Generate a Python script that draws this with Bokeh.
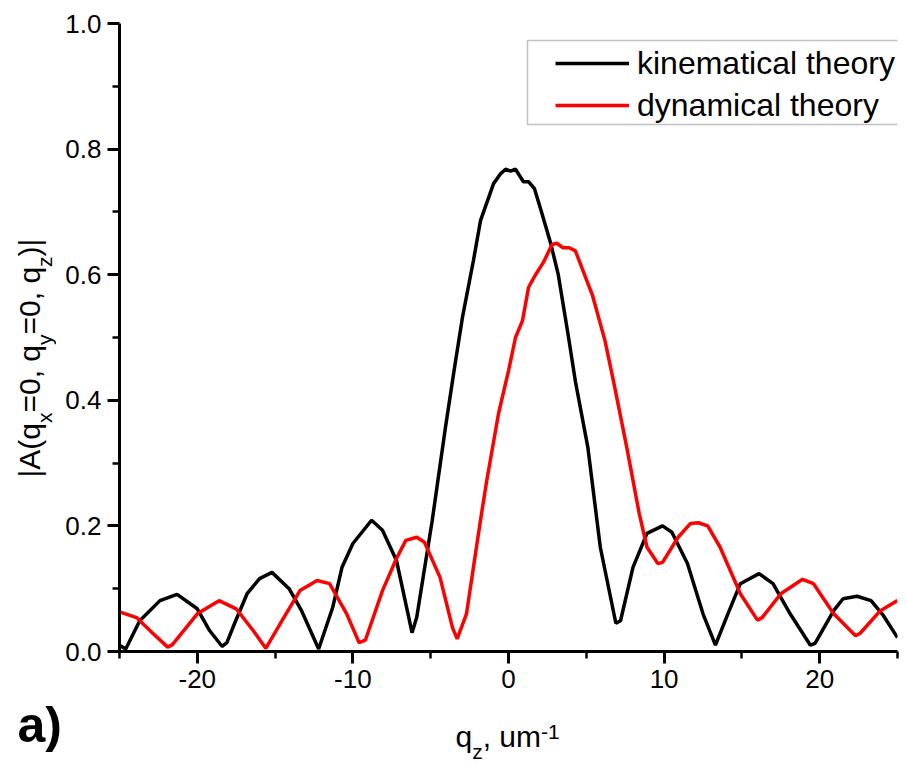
import math
from bokeh.plotting import figure
from bokeh.layouts import row, column
from bokeh.models import (Range1d, FixedTicker, Label, Legend, LegendItem,
                          BoxAnnotation, PrintfTickFormatter)
from bokeh.embed import file_html
from bokeh.resources import INLINE

# ---------------- data ----------------
q_kin = [-25.0, -24.6, -23.7, -22.4, -21.3, -20.0, -19.2, -18.4, -18.1, -17.6,
         -16.8, -16.0, -15.2, -14.1, -13.3, -12.2, -11.3, -10.7, -10.0, -8.8,
         -8.1, -7.2, -6.2, -5.9, -4.9, -4.05, -3.5, -2.96, -2.25, -1.8,
         -0.96, -0.5, -0.19, 0.13, 0.45, 0.96, 1.3, 1.67, 2.06, 2.7,
         3.2, 3.86, 4.3, 5.1, 5.9, 6.9, 7.2, 8.0, 8.9, 9.9,
         10.5, 11.5, 12.5, 13.3, 14.1, 14.9, 16.1, 17.0, 18.1, 19.4,
         19.7, 20.9, 21.5, 22.4, 23.3, 24.1, 25.0]
a_kin = [0.010, 0.004, 0.049, 0.081, 0.091, 0.068, 0.033, 0.008, 0.014, 0.045,
         0.092, 0.116, 0.126, 0.100, 0.065, 0.004, 0.070, 0.134, 0.172, 0.209,
         0.193, 0.145, 0.030, 0.054, 0.209, 0.357, 0.447, 0.532, 0.623, 0.686,
         0.745, 0.761, 0.768, 0.765, 0.768, 0.748, 0.748, 0.737, 0.705, 0.651,
         0.600, 0.500, 0.430, 0.325, 0.166, 0.045, 0.049, 0.134, 0.188, 0.200,
         0.190, 0.140, 0.060, 0.010, 0.060, 0.108, 0.124, 0.108, 0.060, 0.010,
         0.013, 0.065, 0.084, 0.088, 0.081, 0.057, 0.022]

q_dyn = [-25.0, -23.9, -22.9, -21.9, -21.6, -20.0, -18.6, -17.5, -16.4, -15.6,
         -14.3, -13.4, -12.3, -11.5, -10.4, -9.6, -9.2, -8.1, -7.2, -6.6,
         -5.9, -5.4, -4.4, -3.6, -3.3, -2.7, -1.8, -1.4, -0.64, 0.0,
         0.45, 0.9, 1.29, 1.74, 2.25, 2.8, 3.1, 3.5, 3.9, 4.3,
         5.1, 5.4, 6.2, 6.75, 7.6, 8.4, 8.9, 9.6, 9.9, 10.9,
         11.7, 12.2, 12.8, 13.6, 14.9, 16.0, 16.3, 17.5, 18.9, 19.6,
         20.9, 22.3, 22.6, 23.9, 25.0]
a_dyn = [0.063, 0.054, 0.030, 0.007, 0.011, 0.060, 0.081, 0.068, 0.033, 0.005,
         0.060, 0.097, 0.113, 0.108, 0.060, 0.014, 0.018, 0.097, 0.148, 0.177,
         0.182, 0.174, 0.118, 0.038, 0.020, 0.060, 0.209, 0.272, 0.379, 0.447,
         0.500, 0.527, 0.580, 0.600, 0.620, 0.648, 0.650, 0.643, 0.643, 0.638,
         0.586, 0.567, 0.495, 0.430, 0.325, 0.220, 0.166, 0.140, 0.142, 0.182,
         0.204, 0.205, 0.200, 0.166, 0.092, 0.050, 0.054, 0.092, 0.115, 0.108,
         0.060, 0.025, 0.029, 0.065, 0.081]

x_ticks = [-20, -10, 0, 10, 20]
x_minor = [-25, -15, -5, 5, 15, 25]
y_ticks = [0.0, 0.2, 0.4, 0.6, 0.8, 1.0]
y_minor = [0.1, 0.3, 0.5, 0.7, 0.9]
series_names = ["kinematical theory", "dynamical theory"]
series_colors = ["#000000", "#ff0000"]

# label runs: (text, kind) kind: n=normal, sub, sup
x_label_runs = [("q", "n"), ("z", "sub"), (", um", "n"), ("-1", "sup")]
y_label_runs = [("|A(q", "n"), ("x", "sub"), ("=0, q", "n"), ("y", "sub"),
                ("=0, q", "n"), ("z", "sub"), (")|", "n")]
panel_tag = "a)"

# ---------------- layout constants (canvas px) ----------------
W, H = 906, 764
YW = 56          # width of the strip holding the y label
MH = 700         # height of the top row (main plot)
FL, FR, FT, FB = 119, 897, 23, 651   # frame edges in canvas px
FONT = "Liberation Sans"
BASE_FIX = 0.4   # bokeh draws "alphabetic" text ~0.4em below the anchor


def blank(width, height, top=0, bottom=0):
    f = figure(width=width, height=height, output_backend="svg", title=None,
               toolbar_location=None, x_axis_location=None, y_axis_location=None,
               min_border_left=0, min_border_right=0,
               min_border_top=top, min_border_bottom=bottom,
               x_range=Range1d(0, 1), y_range=Range1d(0, 1),
               background_fill_color="white", border_fill_color="white")
    f.outline_line_color = None
    f.grid.visible = False
    return f


p = figure(width=W - YW, height=MH, output_backend="svg", toolbar_location=None,
           x_range=Range1d(-25, 25), y_range=Range1d(0, 1),
           min_border_left=FL - YW, min_border_right=W - FR,
           min_border_top=FT, min_border_bottom=MH - FB,
           background_fill_color="white", border_fill_color="white")
p.outline_line_color = None
p.grid.visible = False

p.xaxis.ticker = FixedTicker(ticks=x_ticks, minor_ticks=x_minor)
p.yaxis.ticker = FixedTicker(ticks=y_ticks, minor_ticks=y_minor)
p.xaxis.formatter = PrintfTickFormatter(format="%d")
p.yaxis.formatter = PrintfTickFormatter(format="%.1f")
for ax in (p.xaxis[0], p.yaxis[0]):
    ax.axis_line_width = 3
    ax.axis_line_color = "black"
    ax.major_tick_line_width = 3
    ax.minor_tick_line_width = 2.5
    ax.major_tick_line_color = "black"
    ax.minor_tick_line_color = "black"
    ax.major_tick_in = 0
    ax.major_tick_out = 12
    ax.minor_tick_in = 0
    ax.minor_tick_out = 7
    ax.major_label_text_font = FONT
    ax.major_label_text_font_size = "26px"
    ax.major_label_text_color = "black"
p.xaxis.major_label_standoff = 6
p.yaxis.major_label_standoff = 6

r_kin = p.line(q_kin, a_kin, line_color=series_colors[0], line_width=3.5)
r_dyn = p.line(q_dyn, a_dyn, line_color=series_colors[1], line_width=3.5)

# ---------------- legend ----------------
p.add_layout(BoxAnnotation(left=527 - FL, right=915 - FL, top=FB - 40, bottom=FB - 124,
                           left_units="screen", right_units="screen",
                           top_units="screen", bottom_units="screen",
                           fill_color="white", fill_alpha=1.0,
                           line_color="#333333", line_width=1.5, level="overlay"))
leg = Legend(items=[LegendItem(label=series_names[0], renderers=[r_kin]),
                    LegendItem(label=series_names[1], renderers=[r_dyn])],
             location=(555 - FL, FB - 126), padding=0, margin=0, spacing=0,
             glyph_width=74, glyph_height=42, label_height=42, label_standoff=8,
             label_text_font=FONT, label_text_font_size="32px",
             label_text_color="black",
             background_fill_alpha=0, border_line_alpha=0)
p.add_layout(leg, "center")

# ---------------- axis labels built from runs ----------------
CW = {'|': 260, 'A': 667, '(': 333, ')': 333, 'q': 556, 'x': 500, 'y': 500, 'z': 500,
      '=': 584, '0': 556, ',': 278, ' ': 278, 'u': 556, 'm': 833, '-': 333, '1': 556}
MAIN, SMALL = 30, 21
SUB_SHIFT, SUP_SHIFT = 11.5, 8


def run_width(t, size):
    return sum(CW.get(c, 556) for c in t) / 1000.0 * size


def add_runs(fig, runs, start, base, vertical, left, bottom):
    """left/bottom: canvas position of the figure's frame left / bottom edges."""
    pos = start
    for t, kind in runs:
        size = MAIN if kind == "n" else SMALL
        shift = {"n": 0, "sub": SUB_SHIFT, "sup": -SUP_SHIFT}[kind]
        fix = BASE_FIX * size
        if vertical:
            cx, cy = base + shift - fix, pos
            lab = Label(x=cx - left, y=bottom - cy, x_units="screen", y_units="screen",
                        text=t, angle=math.pi / 2, text_align="left",
                        text_baseline="alphabetic", text_font=FONT,
                        text_font_size=f"{size}px", text_color="black")
            pos -= run_width(t, size)
        else:
            cx, cy = pos, base + shift - fix
            lab = Label(x=cx - left, y=bottom - cy, x_units="screen", y_units="screen",
                        text=t, text_align="left", text_baseline="alphabetic",
                        text_font=FONT, text_font_size=f"{size}px",
                        text_color="black")
            pos += run_width(t, size)
        fig.add_layout(lab)


# y-label strip: same top/bottom borders as the main plot, so its frame
# bottom sits at canvas y = FB
ylab = blank(YW, MH, top=FT, bottom=MH - FB)
add_runs(ylab, y_label_runs, 477, 41, True, 0, FB)

bottom_fig = blank(W, H - MH)
add_runs(bottom_fig, x_label_runs, 455, 748, False, 0, H)
TAG_SIZE, TAG_BASE = 50, 744
bottom_fig.add_layout(Label(x=17, y=H - (TAG_BASE - BASE_FIX * TAG_SIZE), x_units="screen",
                            y_units="screen", text=panel_tag, text_align="left",
                            text_baseline="alphabetic", text_font=FONT,
                            text_font_size=f"{TAG_SIZE}px", text_font_style="bold",
                            text_color="black"))

layout = column(row(ylab, p, spacing=0), bottom_fig, spacing=0)
open("out.html", "w").write(file_html(layout, INLINE))
